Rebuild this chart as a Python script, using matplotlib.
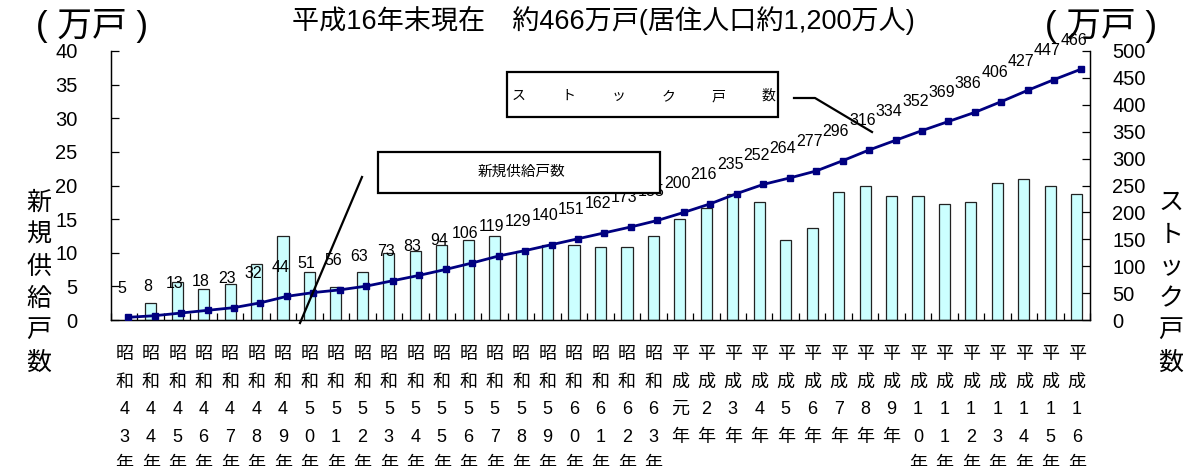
import numpy as np
import matplotlib
matplotlib.use("Agg")
import matplotlib.pyplot as plt
from matplotlib.patches import Rectangle
from matplotlib.lines import Line2D

plt.rcParams['font.family'] = ['Liberation Sans', 'Noto Sans CJK JP', 'DejaVu Sans']

# ---- data ----
categories = (
    ["昭\n和\n4\n%d\n年" % i for i in range(3, 10)]
    + ["昭\n和\n5\n%d\n年" % i for i in range(0, 10)]
    + ["昭\n和\n6\n%d\n年" % i for i in range(0, 4)]
    + ["平\n成\n元\n年"]
    + ["平\n成\n%d\n年" % i for i in range(2, 10)]
    + ["平\n成\n1\n%d\n年" % i for i in range(0, 7)]
)
supply = [np.nan, 2.5, 5.6, 4.6, 5.3, 8.4, 12.5, 7.1, 4.9, 7.1, 10.0,
          10.3, 11.2, 11.9, 12.5, 10.2, 11.2, 11.2, 10.9, 10.9, 12.5,
          15.0, 16.6, 18.7, 17.5, 11.9, 13.7, 19.1, 20.0, 18.4, 18.4,
          17.2, 17.5, 20.3, 20.9, 20.0, 18.7]
stock = [5, 8, 13, 18, 23, 32, 44, 51, 56, 63, 73, 83, 94, 106, 119, 129,
         140, 151, 162, 173, 185, 200, 216, 235, 252, 264, 277, 296, 316,
         334, 352, 369, 386, 406, 427, 447, 466]
left_ticks = [0, 5, 10, 15, 20, 25, 30, 35, 40]
right_ticks = [0, 50, 100, 150, 200, 250, 300, 350, 400, 450, 500]

title = "平成16年末現在\u3000約466万戸(居住人口約1,200万人)"
unit = "( 万戸 )"
left_label = "新規供給戸数"
right_label = "ストック戸数"
box1_text = "ストック戸数"
box2_text = "新規供給戸数"

W, H = 1192, 466
fig = plt.figure(figsize=(W / 100, H / 100), dpi=100)

def fx(px):
    return px / W

def fy(py):
    return 1 - py / H

ax = fig.add_axes([fx(111), fy(320), fx(1090) - fx(111), fy(51) - fy(320)])
ax2 = ax.twinx()

x = np.arange(len(categories))
ax.bar(x, supply, width=0.42, color='#CCFFFF', edgecolor='#222222', linewidth=0.9, zorder=2)
ax.set_xlim(-0.5, len(categories) - 0.5)
ax.set_ylim(0, 40)
ax.set_yticks(left_ticks)
ax.tick_params(axis='y', direction='in', length=6, width=0.9, pad=24, labelsize=14.5)

ax.set_xticks(np.arange(len(categories) + 1) - 0.5)
ax.set_xticklabels([])
ax.tick_params(axis='x', which='major', direction='in', length=5, width=0.9)
ax.set_xticks(x, minor=True)
ax.set_xticklabels(categories, minor=True, fontsize=13, linespacing=1.8,
                   multialignment='center')
ax.tick_params(axis='x', which='minor', length=0, pad=19)

xl = x + 0.15
ax2.plot(xl, stock, color='#000080', lw=2, marker='s', ms=4.2, mfc='#000080',
         mec='#000080', zorder=3)
ax2.set_ylim(0, 500)
ax2.set_yticks(right_ticks)
ax2.tick_params(axis='y', direction='in', length=6, width=0.9, pad=16, labelsize=14.5)
for xi, v in zip(x, stock):
    ax2.annotate(str(v), (xi, v), xytext=(-2, 21), textcoords='offset points',
                 ha='center', va='center', fontsize=11.5, zorder=4)

for a in (ax, ax2):
    a.spines['top'].set_visible(False)
    for s in ('left', 'right', 'bottom'):
        a.spines[s].set_linewidth(0.9)
ax.set_zorder(ax2.get_zorder() - 1)
ax.patch.set_visible(False)
ax2.patch.set_visible(False)

# texts
fig.text(fx(603), fy(20), title, ha='center', va='center', fontsize=19.5)
fig.text(fx(92), fy(26), unit, ha='center', va='center', fontsize=25)
fig.text(fx(1101), fy(26), unit, ha='center', va='center', fontsize=25)
fig.text(fx(39), fy(283), "\n".join(left_label), ha='center', va='center',
         fontsize=18, linespacing=1.3, family=['Noto Sans CJK JP'])
fig.text(fx(1171), fy(283), "\n".join(right_label), ha='center', va='center',
         fontsize=18, linespacing=1.3, family=['Noto Sans CJK JP'])

# annotation boxes
def box(x0, y0, x1, y1):
    r = Rectangle((fx(x0), fy(y1)), fx(x1) - fx(x0), fy(y0) - fy(y1),
                  transform=fig.transFigure, facecolor='white', edgecolor='black',
                  linewidth=1.6, zorder=10)
    fig.add_artist(r)

def line(pts):
    xs = [fx(p[0]) for p in pts]
    ys = [fy(p[1]) for p in pts]
    fig.add_artist(Line2D(xs, ys, transform=fig.transFigure, color='black',
                          lw=1.6, zorder=11))

box(507, 72, 778, 117)
n = len(box1_text)
for i, ch in enumerate(box1_text):
    px = 519 + i * (768 - 519) / (n - 1)
    fig.text(fx(px), fy(96), ch, ha='center', va='center', fontsize=10, zorder=12)
line([(794, 98), (815, 98), (872, 132)])

box(378, 152, 660, 193)
fig.text(fx(521), fy(172), box2_text, ha='center', va='center', fontsize=10.5, zorder=12)
line([(362, 177), (300, 323)])

fig.savefig("out.png", dpi=100)
